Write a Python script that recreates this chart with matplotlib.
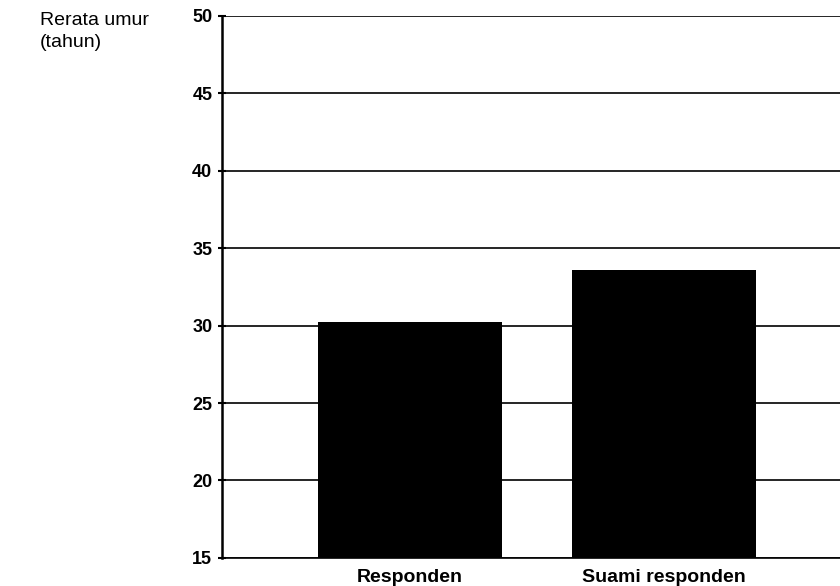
import numpy as np
import matplotlib
matplotlib.use("Agg")
from matplotlib import pyplot as plt

kategori = ["Responden", "Suami responden"]
rerata_umur = [30.2, 33.6]
y_ticks = [15, 20, 25, 30, 35, 40, 45, 50]

plt.rcParams['font.family'] = ['Liberation Sans', 'DejaVu Sans']

fig = plt.figure(figsize=(8.4, 5.86), dpi=100)
ax = fig.add_axes([0.2643, 0.0478, 0.7357, 0.9257])

x = np.arange(len(kategori))
ax.bar(x, rerata_umur, width=0.728, color='black', zorder=3)

ax.set_ylim(15, 50)
ax.set_xlim(-0.74, 1.693)
ax.set_yticks(y_ticks)
ax.set_yticklabels([str(t) for t in y_ticks], fontsize=13, fontweight='bold')
ax.set_xticks(x)
ax.set_xticklabels(kategori, fontsize=14, fontweight='bold')
ax.tick_params(axis='x', length=0, pad=8)
ax.tick_params(axis='y', direction='inout', length=6, width=1.5, pad=4)

ax.yaxis.grid(True, color='black', linewidth=1.2, zorder=0)
ax.set_axisbelow(True)

for s in ['top', 'right']:
    ax.spines[s].set_visible(False)
ax.spines['left'].set_linewidth(1.8)
ax.spines['bottom'].set_linewidth(1.2)

fig.text(40 / 840, 1 - 12 / 586, "Rerata umur\n(tahun)", fontsize=14,
         ha='left', va='top', linespacing=1.35)

fig.savefig("out.png", dpi=100)
